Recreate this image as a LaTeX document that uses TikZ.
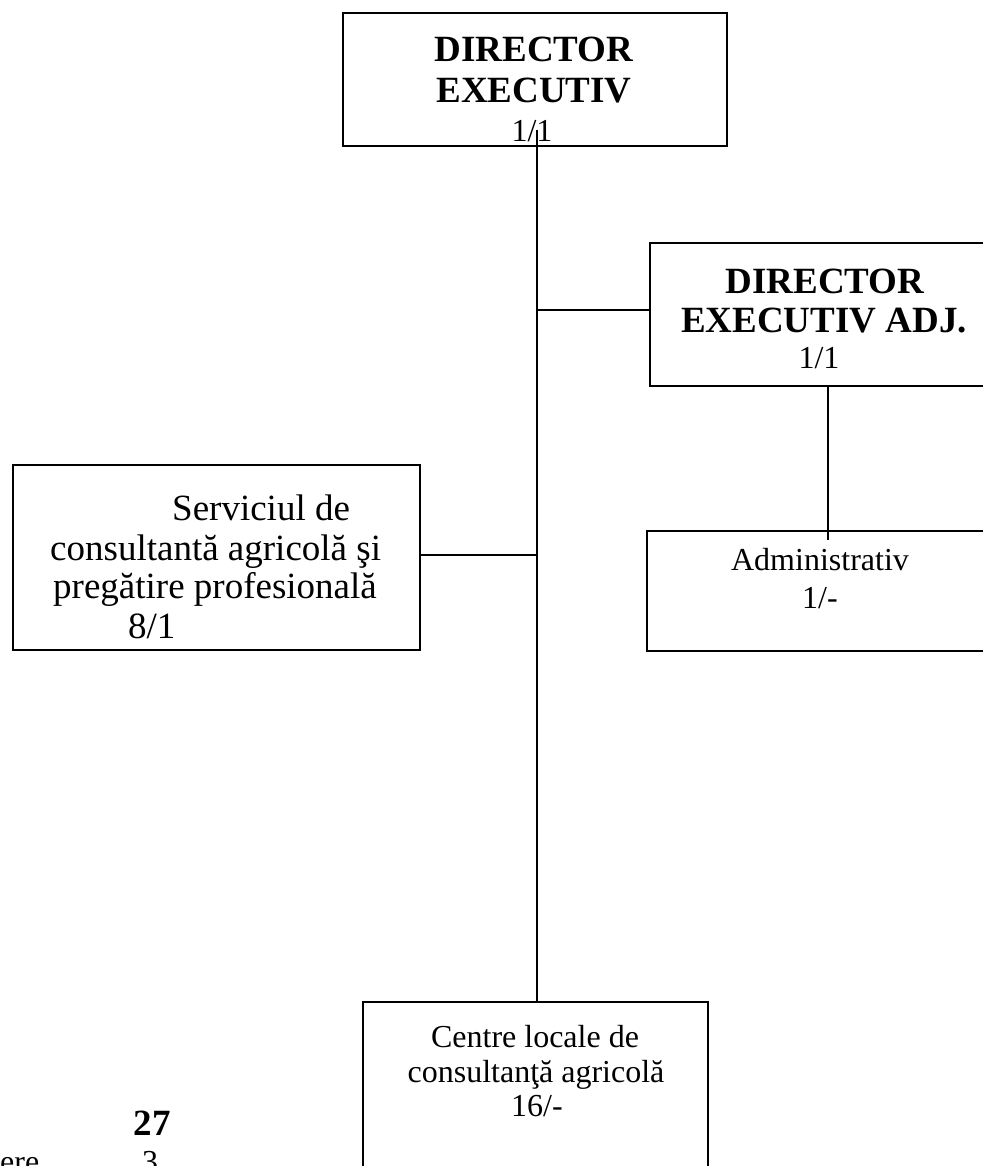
\documentclass[tikz,border=0pt]{standalone}
\usepackage{fontspec}
\setmainfont{Liberation Serif}
\begin{document}
\begin{tikzpicture}[x=1pt,y=-1pt,
  box/.style={draw, line width=1.6pt, inner sep=0pt},
  conn/.style={line width=1.6pt},
  txt/.style={inner sep=0pt, anchor=base, font=\fontsize{32}{38}\selectfont},
  bigtxt/.style={inner sep=0pt, anchor=base west, font=\fontsize{37}{42}\selectfont},
  btxt/.style={inner sep=0pt, anchor=base, font=\fontsize{37}{42}\selectfont\bfseries}]
\useasboundingbox (0,0) rectangle (982,1166);
% boxes
\node[box, minimum width=384pt, minimum height=133pt] (top) at (535,79.5) {};
\node[box, minimum width=352pt, minimum height=143pt] (dea) at (826,314.5) {};
\node[box, minimum width=407pt, minimum height=185pt] (serv) at (216.5,557.5) {};
\node[box, minimum width=355pt, minimum height=120pt] (adm) at (824.5,591) {};
\node[box, minimum width=345pt, minimum height=200pt] (cen) at (535.5,1102) {};
% texts
\node[btxt] (t1) at (534,62) {DIRECTOR};
\node[btxt] (t2) at (534,103) {EXECUTIV};
\node[txt] (t3) at (532,142) {1/1};
\node[btxt] (d1) at (825,293) {DIRECTOR};
\node[btxt] (d2) at (824,332) {EXECUTIV ADJ.};
\node[txt] (d3) at (819,368) {1/1};
\node[bigtxt] (s1) at (172,520) {Serviciul de};
\node[bigtxt] (s2) at (50,560) {consultantă agricolă şi};
\node[bigtxt] (s3) at (53,598) {pregătire profesională};
\node[bigtxt] (s4) at (128,638) {8/1};
\node[txt] (a1) at (820,570) {Administrativ};
\node[txt] (a2) at (820,608) {1/-};
\node[txt] (c1) at (535,1047) {Centre locale de};
\node[txt] (c2) at (536,1082) {consultanţă agricolă};
\node[txt] (c3) at (537,1116) {16/-};
\node[btxt] (n27) at (152,1135) {27};
\node[inner sep=0pt, anchor=base west, font=\fontsize{32}{38}\selectfont] (ere) at (0,1172) {ere};
\node[txt] (n3) at (150,1172) {3};
% connectors
\coordinate (spine) at (537,130);
\draw[conn] (spine) -- (spine |- cen.north);
\coordinate (j1) at (537,310);
\draw[conn] (j1) -- (j1 -| dea.west);
\coordinate (j2) at (537,555);
\draw[conn] (j2) -- (j2 -| serv.east);
\coordinate (admend) at (828,540);
\draw[conn] (admend |- dea.south) -- (admend);
\end{tikzpicture}
\end{document}
